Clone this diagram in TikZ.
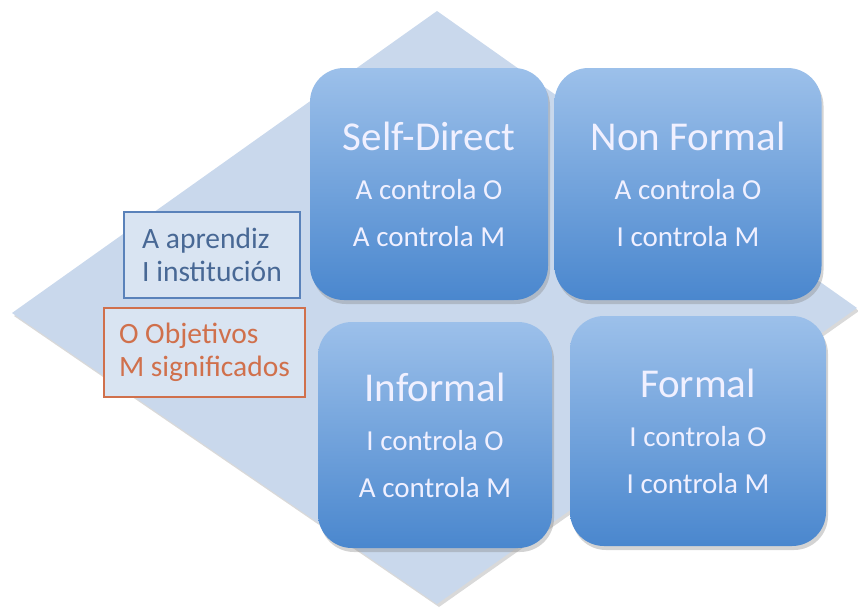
\documentclass[tikz,border=0pt]{standalone}
\usepackage{fontspec}
\setmainfont{Carlito}
\usepackage{tikz}
\usetikzlibrary{shadows, positioning}
\definecolor{diamondfill}{HTML}{C9D8EC}
\definecolor{tiletop}{HTML}{9CC0EA}
\definecolor{tilebottom}{HTML}{4A87CE}
\definecolor{keyblue}{HTML}{5A82BA}
\definecolor{keyred}{HTML}{D0704C}
\tikzset{
  tile/.style={rounded corners=34pt, top color=tiletop, bottom color=tilebottom,
    draw=none, align=center, text=white!94!blue,
    font=\fontsize{29}{47}\selectfont,
    drop shadow={opacity=0.35, shadow xshift=2pt, shadow yshift=-4pt}},
  keybox/.style={draw, line width=1.2pt, fill=diamondfill!70!white, align=left,
    font=\fontsize{29.5}{33}\selectfont, inner sep=0pt},
}
\newcommand{\tiletitle}[1]{{\fontsize{41}{47}\selectfont #1}\\[2pt]}

\begin{document}
\begin{tikzpicture}[x=1pt, y=-1pt]
    \useasboundingbox (0,0) rectangle (858,608);

    % rombo de fondo
    \fill[diamondfill, drop shadow={opacity=0.3, shadow xshift=2pt, shadow yshift=-3pt}]
        (437,11) -- (857,308) -- (437,604) -- (12,313) -- cycle;

    % cuadrantes
    \node[tile, minimum width=238pt, minimum height=232pt] (selfdirect) at (429,184) {
        \tiletitle{Self-Direct}
        A controla O \\
        A controla M
    };
    \node[tile, minimum width=267pt, minimum height=232pt] (nonformal) at (688,184) {
        \tiletitle{Non Formal}
        A controla O \\
        I controla M
    };
    \node[tile, minimum width=234pt, minimum height=226pt] (informal) at (435,435) {
        \tiletitle{Informal}
        I controla O \\
        A controla M
    };
    \node[tile, minimum width=256pt, minimum height=230pt] (formal) at (698,431) {
        \tiletitle{Formal}
        I controla O \\
        I controla M
    };

    % leyenda
    \node[keybox, draw=keyblue, text=keyblue!80!black, minimum width=176pt, minimum height=86pt] (keyactors) at (212,255) {
        A aprendiz \\
        I institución
    };
    \node[keybox, draw=keyred, text=keyred, minimum width=201pt, minimum height=89pt] (keyterms) at (204.5,352.5) {
        O Objetivos \\
        M significados
    };
\end{tikzpicture}
\end{document}
